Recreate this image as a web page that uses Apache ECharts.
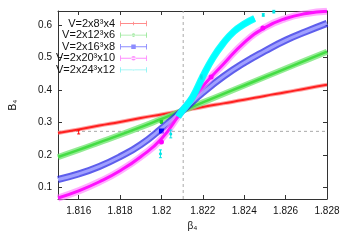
<!DOCTYPE html>
<html><head><meta charset="utf-8">
<script src="https://cdn.jsdelivr.net/npm/echarts@6/dist/echarts.min.js"></script>
<style>html,body{margin:0;padding:0;background:#fff}#c{width:344px;height:241px}</style>
</head><body><div id="c"></div>
<script>
// ---- data ----
const seriesNames = ['V=2x8³x4','V=2x12³x6','V=2x16³x8','V=2x20³x10','V=2x24³x12'];
const xTicks = [1.816,1.818,1.820,1.822,1.824,1.826,1.828];
const yTicks = [0.1,0.2,0.3,0.4,0.5,0.6];
const betaGrid = [1.815,1.816,1.817,1.818,1.819,1.820,1.821,1.822,1.823,1.824,1.825,1.826,1.827,1.828];
const bL8  = [0.268,0.279,0.291,0.302,0.314,0.325,0.336,0.348,0.359,0.370,0.382,0.393,0.405,0.416];
const bL12 = [0.194,0.216,0.239,0.262,0.286,0.311,0.336,0.362,0.388,0.414,0.440,0.466,0.492,0.518];
const bL16 = [0.125,0.142,0.165,0.195,0.232,0.282,0.336,0.392,0.442,0.484,0.520,0.553,0.580,0.605];
const bL20 = [0.068,0.090,0.118,0.152,0.195,0.250,0.336,0.412,0.480,0.546,0.592,0.620,0.635,0.642];
const betaL24 = [1.8208,1.8210,1.8215,1.8220,1.8225,1.8230,1.8235,1.8240,1.8245];
const bL24    = [0.318,0.336,0.378,0.442,0.500,0.545,0.580,0.603,0.620];
// measured points [beta, B, error]
const ptsL8  = [[1.816,0.271,0.006]];
const ptsL12 = [[1.820,0.302,0.004]];
const ptsL16 = [[1.820,0.274,0.004]];
const ptsL20 = [[1.820,0.240,0.004],[1.8224,0.440,0.004],[1.8249,0.591,0.004]];
const ptsL24 = [[1.81995,0.204,0.012],[1.82045,0.265,0.012],[1.82193,0.440,0.006],[1.82492,0.631,0.004],[1.82543,0.641,0.004]];
const crossBeta = 1.82105;
const crossB = 0.273;
const xRange = [1.815, 1.828];
const yRange = [0.065, 0.643];

const colors = ['#ff0000','#22cc22','#0000ff','#ff00ff','#00e5e5'];
const bandColors = ['rgba(255,90,90,0.55)','rgba(120,230,120,0.8)','rgba(40,40,230,0.75)','rgba(255,120,255,0.6)','rgba(0,255,255,0.9)'];
const coreColors = ['#ff2020','#44dd44','#a0a0ff','#ff10ff','#00ffff'];
const bandW = [4,6,7,7,7];
const coreW = [2,2.5,3,3,5];

const curves = [
  betaGrid.map((b,i)=>[b,bL8[i]]),
  betaGrid.map((b,i)=>[b,bL12[i]]),
  betaGrid.map((b,i)=>[b,bL16[i]]),
  betaGrid.map((b,i)=>[b,bL20[i]]),
  betaL24.map((b,i)=>[b,bL24[i]])
];
const pts = [ptsL8,ptsL12,ptsL16,ptsL20,ptsL24];
const markers = ['none','circle','rect','circle','circle'];
const markerSize = [0,4,5,5,3];

const icons = [
  'path://M0,4.5h30v1h-30z M0,2h1v6h-1z M29,2h1v6h-1z M14.5,3h1v4h-1z',
  'path://M0,4.5h30v1h-30z M0,2h1v6h-1z M29,2h1v6h-1z M13,5a2,2 0 1,0 4,0a2,2 0 1,0 -4,0z',
  'path://M0,4.5h30v1h-30z M0,2h1v6h-1z M29,2h1v6h-1z M12.5,2.5h5v5h-5z',
  'path://M0,4.5h30v1h-30z M0,2h1v6h-1z M29,2h1v6h-1z M12.5,5a2.5,2.5 0 1,0 5,0a2.5,2.5 0 1,0 -5,0z',
  'path://M0,4.5h30v1h-30z M0,2h1v6h-1z M29,2h1v6h-1z M14,5a1,1 0 1,0 2,0a1,1 0 1,0 -2,0z'
];

const font = 'Liberation Sans, Arial, sans-serif';
const series = [];
// dashed reference lines
series.push({name:'vline', type:'line', data:[[crossBeta,yRange[0]],[crossBeta,yRange[1]]], showSymbol:false, symbol:'none',
  lineStyle:{color:'#aaa', type:[3,3], width:1}, z:1, silent:true});
series.push({name:'hline', type:'line', data:[[xRange[0],crossB],[xRange[1],crossB]], showSymbol:false, symbol:'none',
  lineStyle:{color:'#aaa', type:[3,3], width:1}, z:1, silent:true});
curves.forEach((d,i)=>{
  series.push({name: seriesNames[i], type:'line', data:d, smooth:true, showSymbol:false, symbol:'none',
    lineStyle:{width:bandW[i], color:bandColors[i]}, itemStyle:{color:colors[i]}, z:2+i*3, silent:true});
  series.push({name: 'c'+i, type:'line', data:d, smooth:true, showSymbol:false, symbol:'none',
    lineStyle:{width:coreW[i], color:coreColors[i]}, z:3+i*3, silent:true});
  series.push({name: 'e'+i, type:'custom', z:4+i*3, silent:true,
    data: pts[i].map(p=>[p[0],p[1],p[2]]),
    renderItem:function(params, api){
      const x = api.value(0), y = api.value(1), e = api.value(2);
      const p0 = api.coord([x,y-e]), p1 = api.coord([x,y+e]), pc = api.coord([x,y]);
      const ch = [];
      const st = {stroke: colors[i], lineWidth:1};
      ch.push({type:'line', shape:{x1:p0[0],y1:p0[1],x2:p1[0],y2:p1[1]}, style:st});
      ch.push({type:'line', shape:{x1:p0[0]-1.5,y1:p0[1],x2:p0[0]+1.5,y2:p0[1]}, style:st});
      ch.push({type:'line', shape:{x1:p1[0]-1.5,y1:p1[1],x2:p1[0]+1.5,y2:p1[1]}, style:st});
      if (markers[i]==='rect') ch.push({type:'rect', shape:{x:pc[0]-2.5,y:pc[1]-2.5,width:5,height:5}, style:{fill:colors[i]}});
      else if (markers[i]==='circle') ch.push({type:'circle', shape:{cx:pc[0],cy:pc[1],r:markerSize[i]/2}, style:{fill:colors[i]}});
      return {type:'group', children:ch};
    }});
});

const axisCol = '#333';
const option = {
  animation:false,
  textStyle:{fontFamily:font},
  grid:{left:46, right:17, top:11, bottom:42, containLabel:false},
  legend:{
    orient:'vertical', align:'right', left:51, top:13, itemGap:0.6,
    itemWidth:27, itemHeight:7, selectedMode:false,
    textStyle:{fontFamily:font, fontSize:11, color:'#111', padding:[0,0,0,0]},
    data: seriesNames.map((n,i)=>({name:n, icon:icons[i], itemStyle:{color:colors[i], opacity:0.45}}))
  },
  xAxis:[{
    type:'value', min:xRange[0], max:xRange[1], name:'β₄', nameLocation:'middle', nameGap:21,
    nameTextStyle:{fontFamily:font, fontSize:10, color:'#111'},
    axisLine:{lineStyle:{color:axisCol}}, splitLine:{show:false},
    axisTick:{inside:true, length:4, customValues:xTicks, lineStyle:{color:axisCol}},
    axisLabel:{customValues:xTicks, fontFamily:font, fontSize:10, color:'#111', margin:7,
      formatter:v=>String(+v.toFixed(3))}
  },{
    type:'value', position:'top', min:xRange[0], max:xRange[1],
    axisLine:{show:true, lineStyle:{color:axisCol}}, splitLine:{show:false},
    axisTick:{inside:true, length:4, customValues:xTicks, lineStyle:{color:axisCol}},
    axisLabel:{show:false}
  }],
  yAxis:[{
    type:'value', min:yRange[0], max:yRange[1], name:'B₄', nameLocation:'middle', nameGap:40, nameRotate:90,
    nameTextStyle:{fontFamily:font, fontSize:10, color:'#111'},
    axisLine:{show:true, lineStyle:{color:axisCol}}, splitLine:{show:false},
    axisTick:{inside:true, length:4, customValues:yTicks, lineStyle:{color:axisCol}},
    axisLabel:{customValues:yTicks, fontFamily:font, fontSize:10, color:'#111', margin:6,
      formatter:v=>String(+v.toFixed(1))}
  },{
    type:'value', position:'right', min:yRange[0], max:yRange[1],
    axisLine:{show:true, lineStyle:{color:axisCol}}, splitLine:{show:false},
    axisTick:{inside:true, length:4, customValues:yTicks, lineStyle:{color:axisCol}},
    axisLabel:{show:false}
  }],
  series: series
};
const chart = echarts.init(document.getElementById('c'), null, {renderer:'canvas'});
chart.setOption(option);
</script>
</body></html>
